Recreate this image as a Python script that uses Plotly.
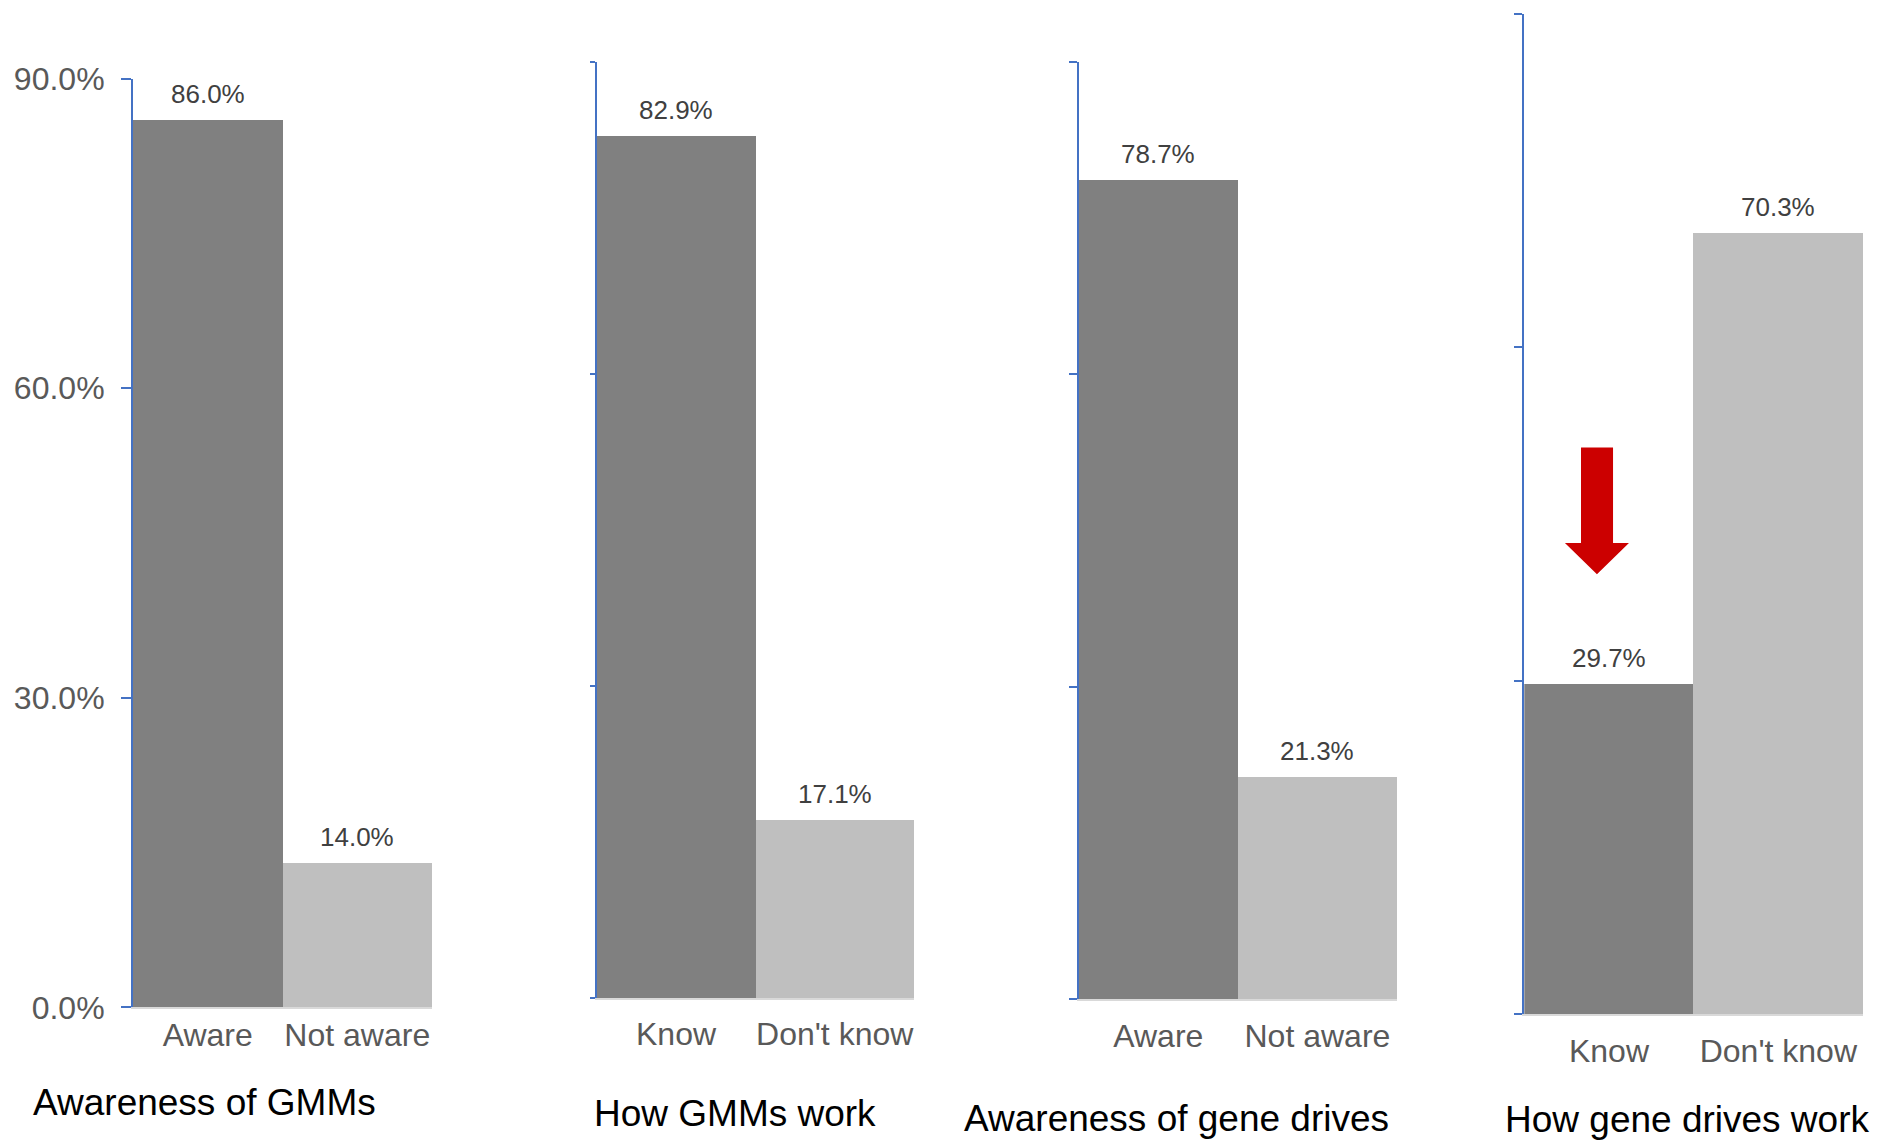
import plotly.graph_objects as go

# Canvas size in pixels
W, H = 1877, 1141

# Survey results (percent of respondents)
panel_titles = ["Awareness of GMMs", "How GMMs work",
                "Awareness of gene drives", "How gene drives work"]
gmm_aware_cats = ["Aware", "Not aware"]
gmm_aware_vals = [86.0, 14.0]
gmm_work_cats = ["Know", "Don't know"]
gmm_work_vals = [82.9, 17.1]
gd_aware_cats = ["Aware", "Not aware"]
gd_aware_vals = [78.7, 21.3]
gd_work_cats = ["Know", "Don't know"]
gd_work_vals = [29.7, 70.3]
y_tick_vals = [0, 30, 60, 90]
y_tick_text = ["0.0%", "30.0%", "60.0%", "90.0%"]

bar_colors = ["#808080", "#BFBFBF"]
axis_blue = "#4472C4"
FONT = "Liberation Sans, Arial, sans-serif"

panels = [
    (gmm_aware_cats, gmm_aware_vals),
    (gmm_work_cats, gmm_work_vals),
    (gd_aware_cats, gd_aware_vals),
    (gd_work_cats, gd_work_vals),
]

# Panel placement in pixels: (left, right, top, bottom) of each plot area
boxes = [
    (133.0, 432.0, 78.7, 1007.3),
    (596.7, 914.0, 61.7, 998.0),
    (1078.7, 1397.0, 62.0, 999.3),
    (1524.3, 1863.0, 14.0, 1014.3),
]
tick_lengths = [10, 5, 8, 8]
cat_standoff = [-2, 7, 7, 7]
# Title centres in pixels (x, y)
title_pos = [(204, 1102), (735, 1113), (1176, 1118), (1687, 1119)]


def px_x(p):
    return p / W


def px_y(p):
    return 1 - p / H


fig = go.Figure()
layout = dict(
    width=W, height=H,
    margin=dict(l=0, r=0, t=0, b=0, autoexpand=False),
    paper_bgcolor="white", plot_bgcolor="white",
    bargap=0, showlegend=False,
    font=dict(family=FONT),
)
annotations = []

for i, ((cats, vals), (l, r, t, b)) in enumerate(zip(panels, boxes)):
    n = "" if i == 0 else str(i + 1)
    xa, ya = "x" + n, "y" + n
    fig.add_trace(go.Bar(
        x=cats, y=vals, xaxis=xa, yaxis=ya,
        marker=dict(color=bar_colors, line=dict(width=0)),
        width=1.0, hoverinfo="skip",
    ))
    layout["xaxis" + n] = dict(
        domain=[px_x(l), px_x(r)], anchor=ya,
        range=[-0.5, 1.5], type="category",
        showline=True, linecolor="#D9D9D9", linewidth=2,
        ticks="", showgrid=False, zeroline=False,
        tickfont=dict(size=32, color="#595959", family=FONT),
        ticklabelstandoff=cat_standoff[i],
        automargin=False,
        fixedrange=True,
    )
    layout["yaxis" + n] = dict(
        domain=[px_y(b), px_y(t)], anchor=xa,
        range=[0, 90],
        tickmode="array", tickvals=y_tick_vals, ticktext=y_tick_text,
        showline=True, linecolor=axis_blue, linewidth=2,
        ticks="outside", ticklen=tick_lengths[i], tickwidth=2, tickcolor=axis_blue,
        showgrid=False, zeroline=False,
        showticklabels=(i == 0),
        tickfont=dict(size=32, color="#595959", family=FONT),
        ticklabelstandoff=10,
        automargin=False,
        fixedrange=True,
    )
    # value labels above each bar
    for c, v in zip(cats, vals):
        annotations.append(dict(
            x=c, y=v, xref=xa, yref=ya,
            text=f"{v:.1f}%", showarrow=False,
            xanchor="center", yanchor="bottom", yshift=9,
            font=dict(size=26, color="#404040", family=FONT),
        ))
    tx, ty = title_pos[i]
    annotations.append(dict(
        x=px_x(tx), y=px_y(ty), xref="paper", yref="paper",
        text=panel_titles[i], showarrow=False,
        xanchor="center", yanchor="middle",
        font=dict(size=37, color="black", family=FONT),
    ))

layout["annotations"] = annotations

# Red downward block arrow highlighting the low "Know" share for gene drives
arrow_pts = [(-0.165, 51.0), (0.024, 51.0), (0.024, 42.4), (0.118, 42.4),
             (-0.071, 39.6), (-0.260, 42.4), (-0.165, 42.4)]
path = "M " + " L ".join(f"{x},{y}" for x, y in arrow_pts) + " Z"
layout["shapes"] = [dict(
    type="path", path=path, xref="x4", yref="y4",
    fillcolor="#CC0000", line=dict(width=0),
)]

fig.update_layout(**layout)
fig.write_html("out.html")
